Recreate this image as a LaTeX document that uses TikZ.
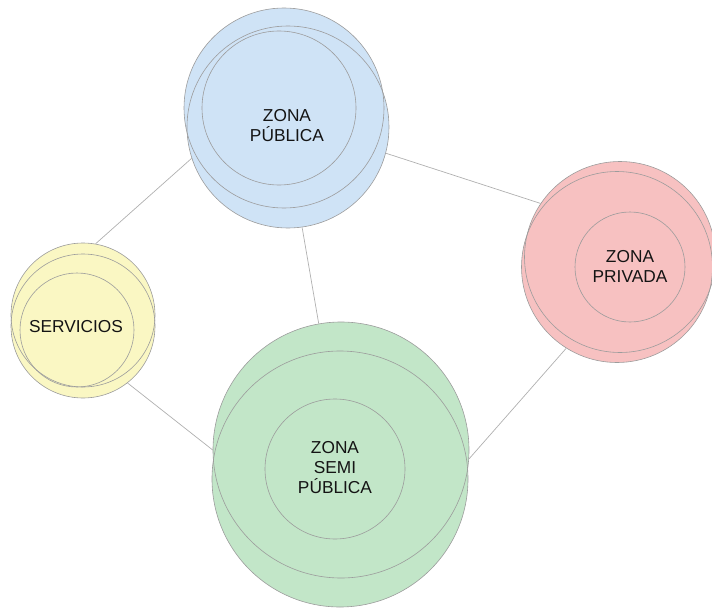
\documentclass[tikz,border=0pt]{standalone}
\usepackage{fontspec}
\setmainfont{Liberation Sans}
\usepackage{xcolor}
\definecolor{azul}{HTML}{CFE3F6}
\definecolor{rosa}{HTML}{F7C1C1}
\definecolor{verde}{HTML}{C2E6C8}
\definecolor{amarillo}{HTML}{FAF7C3}
\definecolor{borde}{HTML}{9C9C9C}
\definecolor{linea}{HTML}{B0B0B0}

\begin{document}
\begin{tikzpicture}[x=1pt, y=-1pt,
		ring/.style={circle, draw=borde, line width=0.6pt, inner sep=0pt},
		zona/.style={font=\fontsize{17.3}{20}\selectfont, align=center, text=black!92},
		conector/.style={draw=linea, line width=0.7pt}]
			\useasboundingbox (0,0) rectangle (712,610);

			% Fondos de cada zona (antes que los bordes)
			\fill[azul] (284,108) circle (100pt) (288,127) circle (101pt);
			\fill[rosa] (620,257) circle (95.5pt) (617,267) circle (95.5pt);
			\fill[amarillo] (83,315) circle (72pt) (83,326) circle (72pt);
			\fill[verde] (341,450) circle (128pt) (340,479) circle (128pt);

			% Zona publica
			\node[ring, minimum size=200pt] (pubA) at (284,108) {};
			\node[ring, minimum size=202pt] (pubB) at (288,127) {};
			\node[ring, minimum size=154pt] (pubC) at (279,108) {};
			\node[zona] (pub) at (287,126) {ZONA\\PÚBLICA};

			% Zona privada
			\node[ring, minimum size=191pt] (privA) at (620,257) {};
			\node[ring, minimum size=191pt] (privB) at (617,267) {};
			\node[ring, minimum size=110pt] (privC) at (630,267) {};
			\node[zona] (priv) at (630,266) {ZONA\\PRIVADA};

			% Servicios
			\node[ring, minimum size=144pt] (servA) at (83,315) {};
			\node[ring, minimum size=144pt] (servB) at (83,326) {};
			\node[ring, minimum size=114pt] (servC) at (77,330) {};
			\node[zona] (serv) at (76,327) {SERVICIOS};

			% Zona semi publica
			\node[ring, minimum size=256pt] (semiA) at (341,450) {};
			\node[ring, minimum size=256pt] (semiB) at (340,479) {};
			\node[ring, minimum size=140pt] (semiC) at (335,469) {};
			\node[zona] (semi) at (335,468) {ZONA\\SEMI\\PÚBLICA};

			% Relaciones entre zonas
			\draw[conector] (pubB.198) -- (servA.80);
			\draw[conector] (pubB.345) -- (privA.146);
			\draw[conector] (pubB.278) -- (semiA.100);
			\draw[conector] (servB.308) -- (semiA.180);
			\draw[conector] (privB.238) -- (semiA.356);
		\end{tikzpicture}
\end{document}
